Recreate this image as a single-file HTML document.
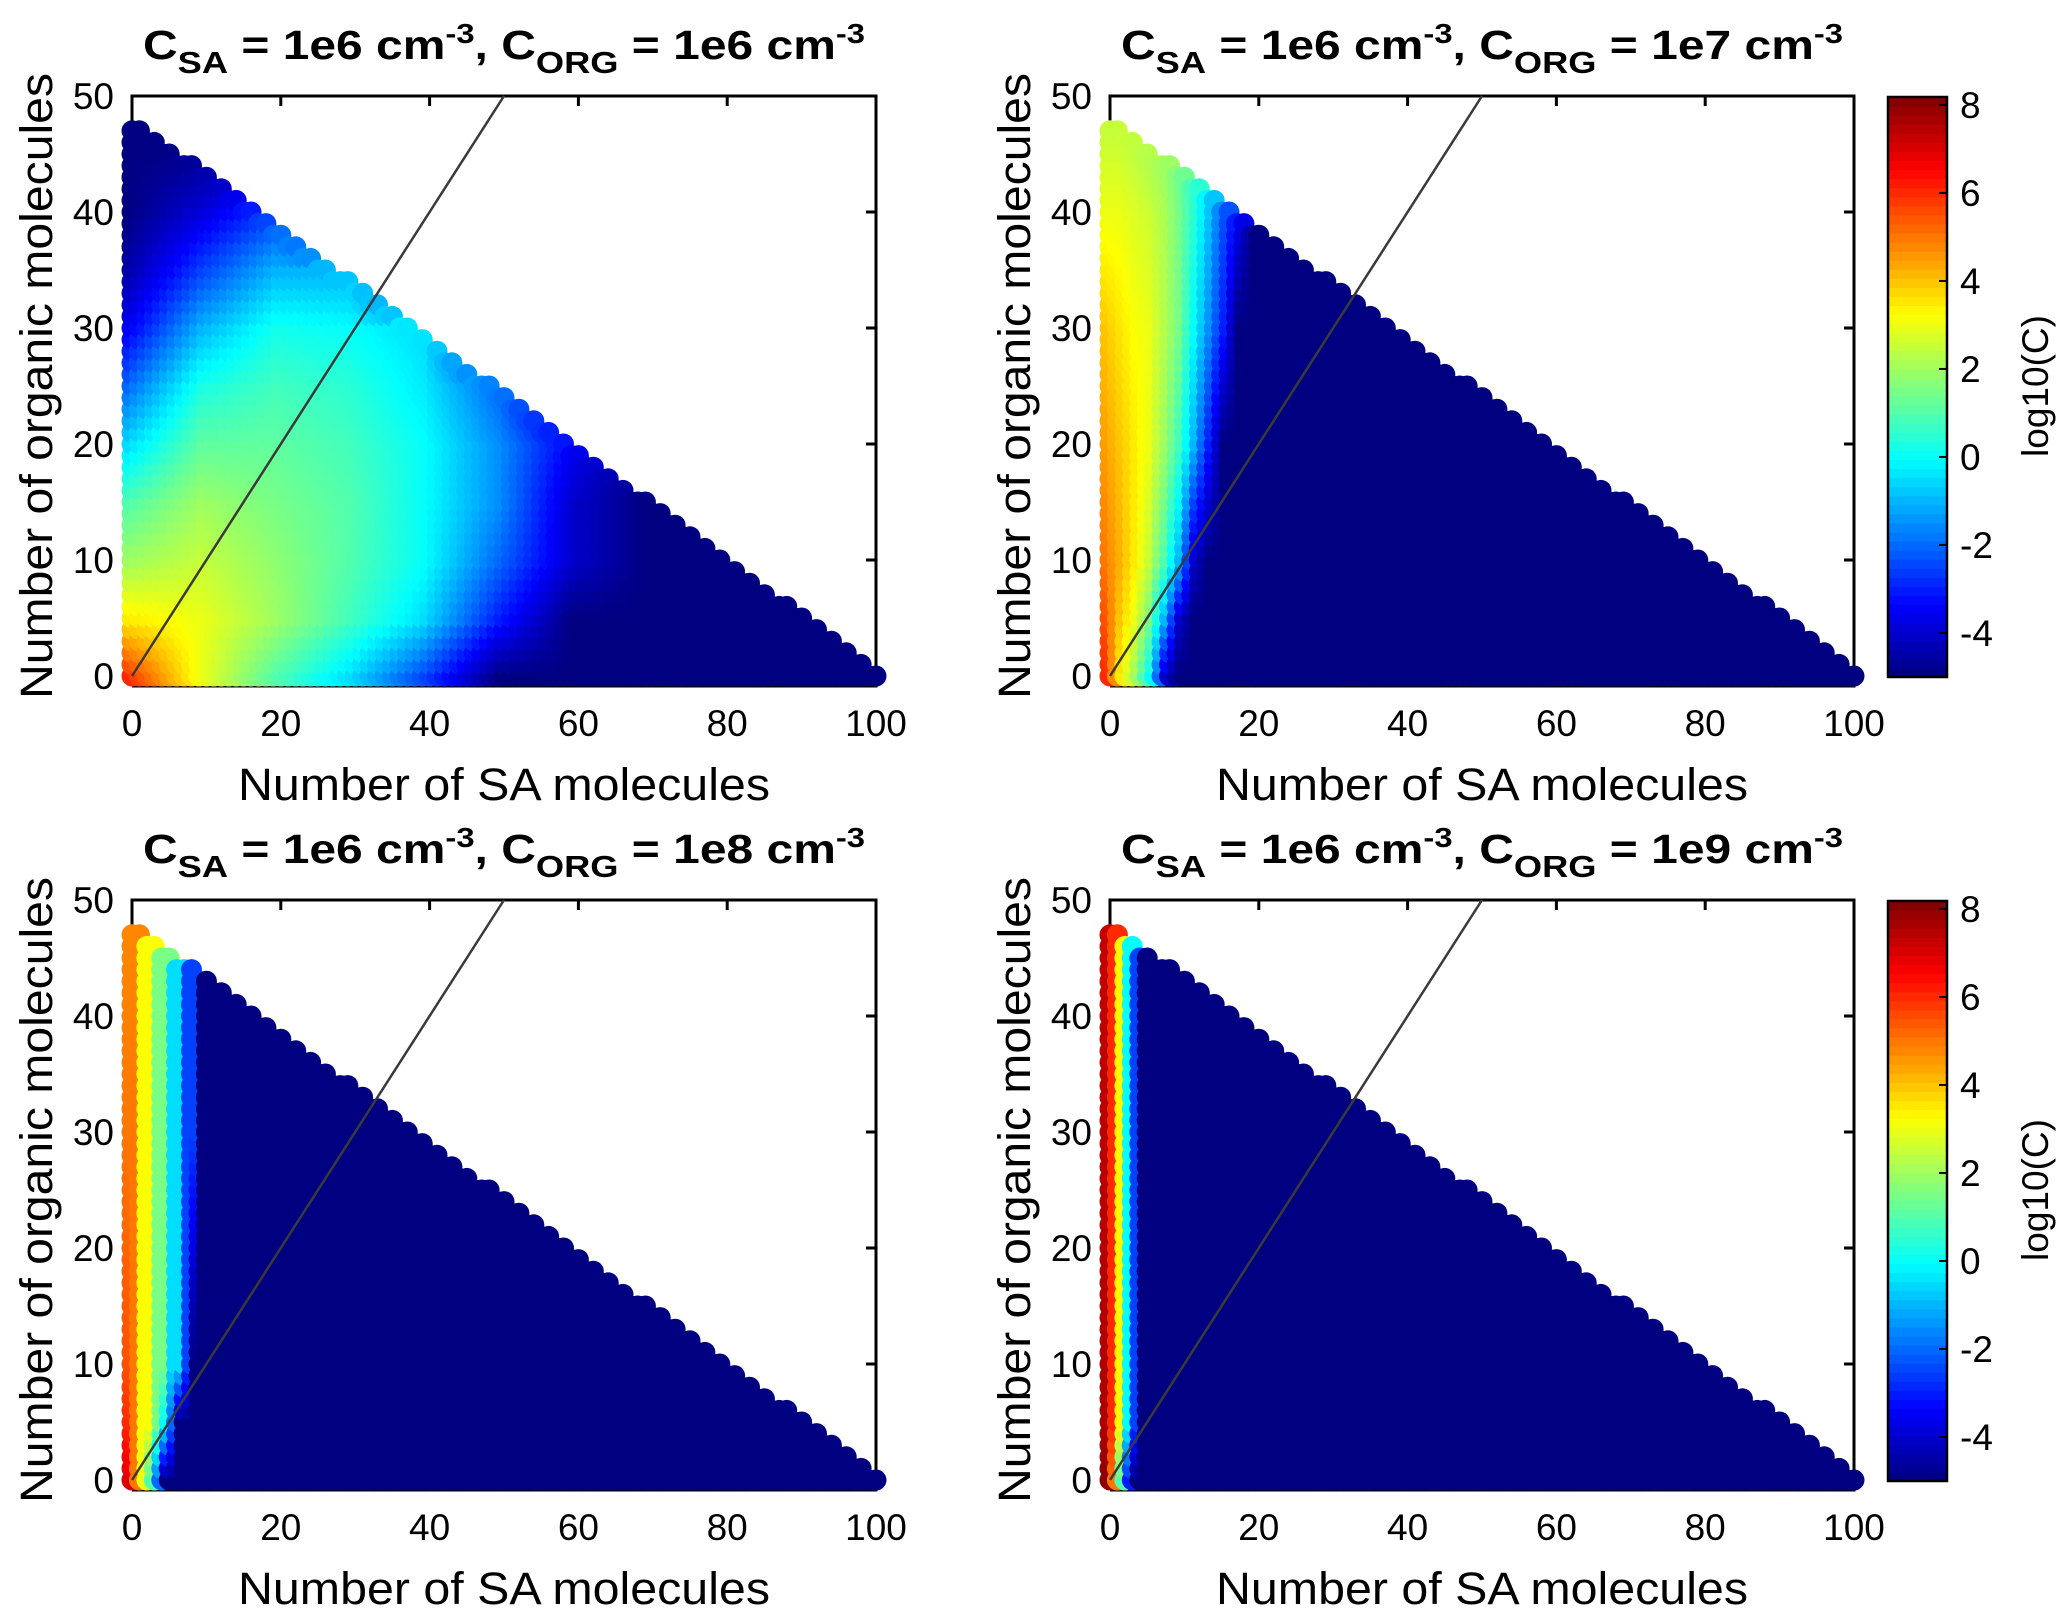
<!DOCTYPE html>
<html><head><meta charset="utf-8"><style>
html,body{margin:0;padding:0;background:#fff}
svg{display:block}
text{font-family:"Liberation Sans",Arial,sans-serif;fill:#000}
</style></head><body>
<svg id="fig" width="2066" height="1615" viewBox="0 0 2066 1615" xmlns="http://www.w3.org/2000/svg"></svg>
<script>
// ---- data ----
const xTicks=[0,20,40,60,80,100];
const yTicks=[0,10,20,30,40,50];
const cbTicks=[-4,-2,0,2,4,6,8];
const titlesSA=["1e6","1e6","1e6","1e6"];
const titlesORG=["1e6","1e7","1e8","1e9"];
const cMin=-5, cMax=8.18;
// panel 1 (CORG=1e6)
const p1xs=[0,10,20,30,40,50,60,70,80,100];
const p1ys=[0,5,10,15,20,25,30,35,40,45];
const p1vals=[
[6,3,1,-0.5,-2.5,-5,-5,-5,-5,-5],
[3.5,3,2,0.8,-0.5,-3,-5,-5,-5,-5],
[2,2.5,1.8,1,0,-2,-4,-5,-5,-5],
[1,2,1.5,1,0,-1.5,-4,-5,-5,-5],
[-0.5,1.2,1.2,0.8,0,-1.5,-3.5,-5,-5,-5],
[-2,0.3,0.8,0.5,-0.3,-2,-5,-5,-5,-5],
[-3.5,-1,0.2,0,-0.5,-5,-5,-5,-5,-5],
[-4.5,-2.5,-1,-1,-5,-5,-5,-5,-5,-5],
[-5,-3.8,-2.5,-5,-5,-5,-5,-5,-5,-5],
[-5,-4.8,-5,-5,-5,-5,-5,-5,-5,-5]];
// panel 2 (CORG=1e7)
const p2xs=[0,2,4,6,8,10,12,14,16,18,20,22,24,100];
const p2ys=[0,5,10,20,30,40,47];
const p2vals=[
[6,3.5,2,0,-4,-5,-5,-5,-5,-5,-5,-5,-5,-5],
[5.5,4,3,1.5,-1,-4,-5,-5,-5,-5,-5,-5,-5,-5],
[5,4.3,3.5,2.5,1,-1,-4,-5,-5,-5,-5,-5,-5,-5],
[4.5,4,3.5,3,2,0.8,-1,-3,-5,-5,-5,-5,-5,-5],
[4,3.6,3.2,3,2.3,1.5,0,-1.5,-3,-5,-5,-5,-5,-5],
[3,3,2.8,2.6,2.2,1.5,0.5,-0.8,-2.3,-3.5,-5,-5,-5,-5],
[2.5,2.5,2.3,2,1.8,1.2,0.5,-0.8,-2.3,-3.5,-5,-5,-5,-5]];
// panel 3 (CORG=1e8)
const p3xs=[0,1,2,3,4,5,6,7,8,9,10,100];
const p3ys=[0,5,10,30,47];
const p3vals=[
[7,5,3,1,-2,-5,-5,-5,-5,-5,-5,-5],
[6,5,3.2,3.2,1.5,0,-2,-5,-5,-5,-5,-5],
[5.5,5,3.2,3.2,1.5,1.5,-0.5,-0.5,-2.5,-5,-5,-5],
[5,5,3.2,3.2,1.5,1.5,-0.5,-0.5,-2.5,-2.5,-5,-5],
[4.8,4.8,3.2,3.2,1.5,1.5,-0.5,-0.5,-2.5,-2.5,-5,-5]];
// panel 4 (CORG=1e9)
const p4xs=[0,1,2,3,4,5,100];
const p4ys=[0,5,47];
const p4vals=[
[8,5,1,-3,-5,-5,-5],
[7.6,6,3.3,0,-2.5,-5,-5],
[7.3,6,3.3,0,-2.5,-5,-5]];
const lineX=[0,50], lineY=[0,50];

// ---- layout ----
const NS="http://www.w3.org/2000/svg";
const svg=document.getElementById('fig');
function el(tag,attrs,parent){const e=document.createElementNS(NS,tag);for(const k in attrs)e.setAttribute(k,attrs[k]);(parent||svg).appendChild(e);return e;}
function jet(t){t=Math.max(0,Math.min(1,t));const c=v=>Math.round(255*Math.max(0,Math.min(1,v)));
return `rgb(${c(1.5-Math.abs(4*t-3))},${c(1.5-Math.abs(4*t-2))},${c(1.5-Math.abs(4*t-1))})`;}
function colorOf(v){return jet((v-cMin)/(cMax-cMin));}
function interp1(arr,v){let i=0;while(i<arr.length-2&&v>arr[i+1])i++;let f=(v-arr[i])/(arr[i+1]-arr[i]);f=Math.max(0,Math.min(1,f));return [i,f];}
function valAt(xs,ys,vals,x,y){const [i,fx]=interp1(xs,x);const [j,fy]=interp1(ys,y);
const a=vals[j][i]*(1-fx)+vals[j][i+1]*fx;const b=vals[j+1][i]*(1-fx)+vals[j+1][i+1]*fx;return a*(1-fy)+b*fy;}

const panels=[
{ox:132,oy:96,xs:p1xs,ys:p1ys,vals:p1vals,cb:false,lx:37},
{ox:1110,oy:96,xs:p2xs,ys:p2ys,vals:p2vals,cb:true,lx:1015},
{ox:132,oy:900,xs:p3xs,ys:p3ys,vals:p3vals,cb:false,lx:37},
{ox:1110,oy:900,xs:p4xs,ys:p4ys,vals:p4vals,cb:true,lx:1015}];
const W=744, H=580;

panels.forEach((p,k)=>{
  const g=el('g',{});
  
  
  const sx=v=>p.ox+v*W/100;
  const sy=v=>p.oy+H-v*H/50;
  const bottom=sy(0)+10;
  const box=el('path',{d:`M${p.ox},${bottom}V${p.oy}H${p.ox+W}V${bottom}H${p.ox}`,fill:'none',stroke:'#000','stroke-width':3},g);
  
  
  xTicks.forEach(t=>{
    el('line',{x1:sx(t),x2:sx(t),y1:p.oy,y2:p.oy+10,stroke:'#000','stroke-width':3},g);
    el('line',{x1:sx(t),x2:sx(t),y1:bottom,y2:bottom-10,stroke:'#000','stroke-width':3},g);
    const tx=el('text',{x:sx(t),y:bottom+50,'font-size':37,'text-anchor':'middle'},g);
    tx.textContent=t;
    
    
  });
  yTicks.forEach(t=>{
    el('line',{x1:p.ox,x2:p.ox+10,y1:sy(t),y2:sy(t),stroke:'#000','stroke-width':3},g);
    el('line',{x1:p.ox+W,x2:p.ox+W-10,y1:sy(t),y2:sy(t),stroke:'#000','stroke-width':3},g);
    const ty=el('text',{x:p.ox-18,y:sy(t)+13,'font-size':37,'text-anchor':'end'},g);
    ty.textContent=t;
    
    
  });
  const pts=el('g',{},g);
  
  
  for(let x=0;x<=100;x++){
    const ymax=Math.floor((95-0.95*x)/2+0.3);
    for(let y=0;y<=ymax;y++){
      el('circle',{cx:sx(x).toFixed(1),cy:sy(y).toFixed(1),r:10.5,fill:colorOf(valAt(p.xs,p.ys,p.vals,x,y))},pts);
    }
  }
  const ln=el('line',{x1:sx(lineX[0]),y1:sy(lineY[0]),x2:sx(lineX[1]),y2:sy(lineY[1]),stroke:'#3a3a3a','stroke-width':2.5},g);
  
  
  const cx=p.ox+W/2;
  const tt=el('text',{x:cx,y:p.oy-37,'font-size':41,'font-weight':'bold','text-anchor':'middle',textLength:722,lengthAdjust:'spacingAndGlyphs'},g);
  
  
  tt.innerHTML=`C<tspan dy="14" font-size="31">SA</tspan><tspan dy="-14"> = ${titlesSA[k]} cm</tspan><tspan dy="-16" font-size="28">-3</tspan><tspan dy="16">, C</tspan><tspan dy="14" font-size="31">ORG</tspan><tspan dy="-14"> = ${titlesORG[k]} cm</tspan><tspan dy="-16" font-size="28">-3</tspan>`;
  const xl=el('text',{x:cx,y:p.oy+H+124,'font-size':45,'text-anchor':'middle',textLength:532,lengthAdjust:'spacingAndGlyphs'},g);
  xl.textContent='Number of SA molecules';
  
  
  const ycy=p.oy+290;
  const yl=el('text',{x:0,y:0,'font-size':45,'text-anchor':'middle',textLength:626,lengthAdjust:'spacingAndGlyphs',transform:`translate(${p.lx+15},${ycy}) rotate(-90)`},g);
  yl.textContent='Number of organic molecules';
  
  
  if(p.cb){
    const cbg=el('g',{},g);
    
    
    const cx0=1888,cw=59,top=p.oy+1,bot=p.oy+581;
    const cy=v=>bot-(v-cMin)/(cMax-cMin)*(bot-top);
    const N=64;
    for(let i=0;i<N;i++){
      const v0=cMin+(cMax-cMin)*i/N, v1=cMin+(cMax-cMin)*(i+1)/N;
      el('rect',{x:cx0,y:cy(v1),width:cw,height:cy(v0)-cy(v1)+0.6,fill:colorOf((v0+v1)/2)},cbg);
    }
    el('rect',{x:cx0,y:top,width:cw,height:bot-top,fill:'none',stroke:'#000','stroke-width':2.5},cbg);
    cbTicks.forEach(t=>{
      el('line',{x1:cx0+cw,x2:cx0+cw-8,y1:cy(t),y2:cy(t),stroke:'#000','stroke-width':2},cbg);
      const l=el('text',{x:cx0+cw+13,y:cy(t)+13,'font-size':37},cbg);
      l.textContent=t;
      
      
    });
    const cl=el('text',{x:0,y:0,'font-size':37,'text-anchor':'middle',transform:`translate(2048,${p.oy+290}) rotate(-90)`},cbg);
    cl.textContent='log10(C)';
    
    
  }
});
</script>
</body></html>
